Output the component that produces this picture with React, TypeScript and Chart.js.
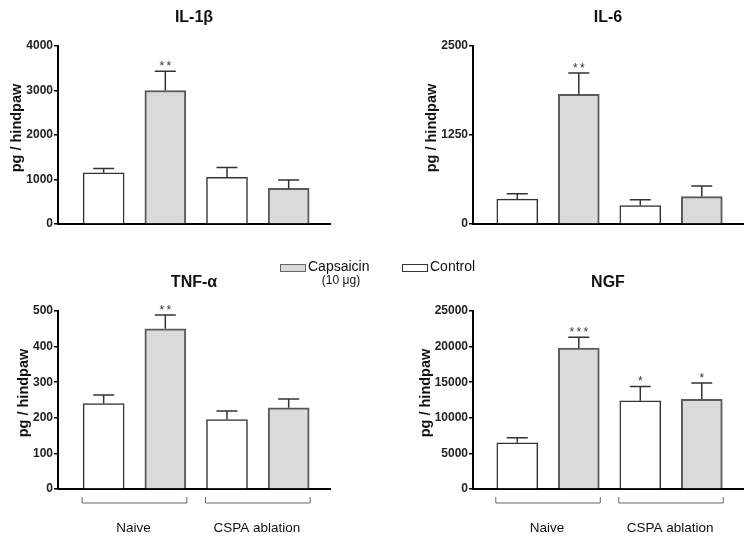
import React, { useEffect, useRef } from 'react';
import { Chart, registerables } from 'chart.js';

Chart.register(...registerables);

const FONT = 'Arial, "Liberation Sans", Helvetica, sans-serif';
Chart.defaults.font.family = FONT;

// ---------- data ----------
const groups = ['Naive', 'CSPA ablation'];
const treatments = ['Control', 'Capsaicin'];
const capsaicinDose = '(10 μg)';
const yAxisTitle = 'pg / hindpaw';

const il1bTicks = [0, 1000, 2000, 3000, 4000];
const il1bControl = [1150, 1050];
const il1bControlSem = [100, 220];
const il1bCapsaicin = [3000, 800];
const il1bCapsaicinSem = [430, 190];
const il1bControlStars = ['', ''];
const il1bCapsaicinStars = ['**', ''];

const il6Ticks = [0, 1250, 2500];
const il6Control = [350, 260];
const il6ControlSem = [75, 80];
const il6Capsaicin = [1820, 385];
const il6CapsaicinSem = [300, 150];
const il6ControlStars = ['', ''];
const il6CapsaicinStars = ['**', ''];

const tnfTicks = [0, 100, 200, 300, 400, 500];
const tnfControl = [240, 195];
const tnfControlSem = [24, 24];
const tnfCapsaicin = [450, 228];
const tnfCapsaicinSem = [39, 25];
const tnfControlStars = ['', ''];
const tnfCapsaicinStars = ['**', ''];

const ngfTicks = [0, 5000, 10000, 15000, 20000, 25000];
const ngfControl = [6500, 12400];
const ngfControlSem = [700, 2000];
const ngfCapsaicin = [19800, 12600];
const ngfCapsaicinSem = [1500, 2300];
const ngfControlStars = ['', '*'];
const ngfCapsaicinStars = ['***', '*'];

const panelTitles = ['IL-1β', 'IL-6', 'TNF-α', 'NGF'];

type PanelData = {
  title: string;
  ticks: number[];
  series: { values: number[]; sem: number[]; stars: string[] }[];
};

const panels: PanelData[] = [
  { title: panelTitles[0], ticks: il1bTicks, series: [
    { values: il1bControl, sem: il1bControlSem, stars: il1bControlStars },
    { values: il1bCapsaicin, sem: il1bCapsaicinSem, stars: il1bCapsaicinStars }] },
  { title: panelTitles[1], ticks: il6Ticks, series: [
    { values: il6Control, sem: il6ControlSem, stars: il6ControlStars },
    { values: il6Capsaicin, sem: il6CapsaicinSem, stars: il6CapsaicinStars }] },
  { title: panelTitles[2], ticks: tnfTicks, series: [
    { values: tnfControl, sem: tnfControlSem, stars: tnfControlStars },
    { values: tnfCapsaicin, sem: tnfCapsaicinSem, stars: tnfCapsaicinStars }] },
  { title: panelTitles[3], ticks: ngfTicks, series: [
    { values: ngfControl, sem: ngfControlSem, stars: ngfControlStars },
    { values: ngfCapsaicin, sem: ngfCapsaicinSem, stars: ngfCapsaicinStars }] },
];

// ---------- layout ----------
type Layout = {
  left: number; top: number; w: number; h: number;
  pad: { top: number; right: number; bottom: number; left: number };
  axisW: number; xMin: number; xMax: number;
  groupLabels: boolean;
  legend?: 'Control' | 'Capsaicin';
};

const layouts: Layout[] = [
  { left: 0, top: 0, w: 376, h: 240, pad: { top: 46, right: 46, bottom: 16, left: 0 }, axisW: 58, xMin: 0.26, xMax: 4.67, groupLabels: false },
  { left: 376, top: 0, w: 377, h: 240, pad: { top: 46, right: 10, bottom: 16, left: 0 }, axisW: 97, xMin: 0.28, xMax: 4.67, groupLabels: false },
  { left: 0, top: 240, w: 376, h: 303, pad: { top: 71, right: 46, bottom: 54, left: 0 }, axisW: 58, xMin: 0.26, xMax: 4.67, groupLabels: true, legend: 'Capsaicin' },
  { left: 376, top: 240, w: 377, h: 303, pad: { top: 71, right: 10, bottom: 54, left: 0 }, axisW: 97, xMin: 0.28, xMax: 4.67, groupLabels: true, legend: 'Control' },
];

const BAR_W = 41;

function makeHatch(ctx: CanvasRenderingContext2D): CanvasPattern | string {
  const c = document.createElement('canvas');
  c.width = 4; c.height = 4;
  const g = c.getContext('2d');
  if (!g) return '#dadada';
  g.fillStyle = '#dedede';
  g.fillRect(0, 0, 4, 4);
  g.fillStyle = '#d4d4d4';
  for (let x = 0; x < 4; x++) {
    for (let y = 0; y < 4; y++) {
      if ((x + y) % 4 === 0 || (x - y + 4) % 4 === 0) g.fillRect(x, y, 1, 1);
    }
  }
  return ctx.createPattern(c, 'repeat') || '#dadada';
}

function makePlugin(p: PanelData, L: Layout, hatch: CanvasPattern | string) {
  return {
    id: 'annot',
    afterDraw(chart: any) {
      const ctx: CanvasRenderingContext2D = chart.ctx;
      const area = chart.chartArea;
      const ys = chart.scales.y;
      const xs = chart.scales.x;
      ctx.save();

      // error bars + stars
      p.series.forEach((s, di) => {
        const meta = chart.getDatasetMeta(di);
        meta.data.forEach((el: any, j: number) => {
          const top = ys.getPixelForValue(s.values[j] + s.sem[j]);
          ctx.strokeStyle = '#333';
          ctx.lineWidth = 1.5;
          ctx.beginPath();
          ctx.moveTo(el.x, el.y);
          ctx.lineTo(el.x, top);
          ctx.moveTo(el.x - 10.5, top);
          ctx.lineTo(el.x + 10.5, top);
          ctx.stroke();
          if (s.stars[j]) {
            ctx.fillStyle = '#333';
            ctx.font = `12px ${FONT}`;
            ctx.textAlign = 'center';
            ctx.textBaseline = 'alphabetic';
            ctx.fillText(s.stars[j].split('').join('\u2009'), el.x, top - 1);
          }
        });
      });

      // panel title
      ctx.fillStyle = '#111';
      ctx.font = `bold 16px ${FONT}`;
      ctx.textAlign = 'center';
      ctx.textBaseline = 'middle';
      ctx.fillText(p.title, (area.left + area.right) / 2, area.top - 28);

      // y-axis title
      ctx.font = `bold 12px ${FONT}`;
      let maxW = 0;
      p.ticks.forEach((t) => { maxW = Math.max(maxW, ctx.measureText(String(t)).width); });
      const tx = area.left - 5 - maxW - 9;
      ctx.save();
      ctx.translate(tx, (area.top + area.bottom) / 2 - 7);
      ctx.rotate(-Math.PI / 2);
      ctx.font = `bold 14.5px ${FONT}`;
      ctx.fillStyle = '#111';
      ctx.textAlign = 'center';
      ctx.textBaseline = 'middle';
      ctx.fillText(yAxisTitle, 0, 0);
      ctx.restore();

      // group brackets and labels
      if (L.groupLabels) {
        groups.forEach((g, gi) => {
          const x1 = xs.getPixelForValue(gi * 2 + 1) - BAR_W / 2 - 1;
          const x2 = xs.getPixelForValue(gi * 2 + 2) + BAR_W / 2 + 1;
          const yb = area.bottom + 8;
          ctx.strokeStyle = '#666';
          ctx.lineWidth = 1;
          ctx.beginPath();
          ctx.moveTo(x1, yb);
          ctx.lineTo(x1, yb + 6);
          ctx.lineTo(x2, yb + 6);
          ctx.lineTo(x2, yb);
          ctx.stroke();
          ctx.fillStyle = '#111';
          ctx.font = `13.5px ${FONT}`;
          ctx.textAlign = 'center';
          ctx.textBaseline = 'middle';
          ctx.fillText(g, (x1 + x2) / 2 - 1, area.bottom + 39);
        });
      }

      // legend entry
      if (L.legend) {
        const isCap = L.legend === 'Capsaicin';
        const bx = (isCap ? 280 : 402) - L.left;
        const by = 264 - L.top;
        ctx.fillStyle = isCap ? (hatch as any) : '#fff';
        ctx.fillRect(bx, by, 25, 7);
        ctx.strokeStyle = isCap ? '#666' : '#333';
        ctx.lineWidth = 1;
        ctx.strokeRect(bx + 0.5, by + 0.5, 25, 7);
        ctx.fillStyle = '#111';
        ctx.font = `14px ${FONT}`;
        ctx.textAlign = 'left';
        ctx.textBaseline = 'middle';
        ctx.fillText(isCap ? treatments[1] : treatments[0], bx + 28, by + 3.5);
        if (isCap) {
          ctx.font = `12px ${FONT}`;
          ctx.textAlign = 'center';
          ctx.fillText(capsaicinDose, bx + 61, by + 17);
        }
      }
      ctx.restore();
    },
  };
}

function Panel({ p, L }: { p: PanelData; L: Layout }) {
  const ref = useRef<HTMLCanvasElement>(null);
  useEffect(() => {
    const canvas = ref.current;
    if (!canvas) return;
    const ctx = canvas.getContext('2d')!;
    const hatch = makeHatch(ctx);
    const step = p.ticks[1] - p.ticks[0];
    const chart = new Chart(canvas, {
      type: 'bar',
      data: {
        datasets: p.series.map((s, ti) => ({
          label: treatments[ti],
          data: s.values.map((v, gi) => ({ x: gi * 2 + ti + 1, y: v })),
          backgroundColor: ti === 1 ? (hatch as any) : '#ffffff',
          borderColor: ti === 1 ? '#5a5a5a' : '#333333',
          borderWidth: ti === 1 ? 2 : 1.5,
          barThickness: BAR_W,
          grouped: false,
        })),
      },
      options: {
        animation: false,
        responsive: false,
        devicePixelRatio: 1,
        layout: { padding: L.pad },
        plugins: { legend: { display: false }, tooltip: { enabled: false }, title: { display: false } },
        scales: {
          x: {
            type: 'linear',
            offset: false,
            min: L.xMin,
            max: L.xMax,
            ticks: { display: false },
            grid: { display: false, drawTicks: false, offset: false },
            border: { display: true, color: '#000', width: 2 },
            afterFit: (s: any) => { s.height = 0; },
          },
          y: {
            type: 'linear',
            min: p.ticks[0],
            max: p.ticks[p.ticks.length - 1],
            ticks: {
              stepSize: step,
              autoSkip: false,
              padding: 1,
              color: '#222',
              font: { size: 12, weight: 'bold' },
              callback: (v: any) => String(v),
            },
            grid: { display: true, drawOnChartArea: false, drawTicks: true, tickLength: 4, color: '#000', lineWidth: 1.5 },
            border: { display: true, color: '#000', width: 2 },
            afterFit: (s: any) => { s.width = L.axisW; },
          },
        },
      } as any,
      plugins: [makePlugin(p, L, hatch) as any],
    });
    return () => chart.destroy();
  }, []);
  return (
    <canvas
      ref={ref}
      width={L.w}
      height={L.h}
      style={{ position: 'absolute', left: L.left, top: L.top, width: L.w, height: L.h }}
    />
  );
}

export default function App() {
  return (
    <div style={{ position: 'absolute', left: 0, top: 0, width: 753, height: 543, background: '#fff' }}>
      {panels.map((p, i) => (
        <Panel key={i} p={p} L={layouts[i]} />
      ))}
    </div>
  );
}
